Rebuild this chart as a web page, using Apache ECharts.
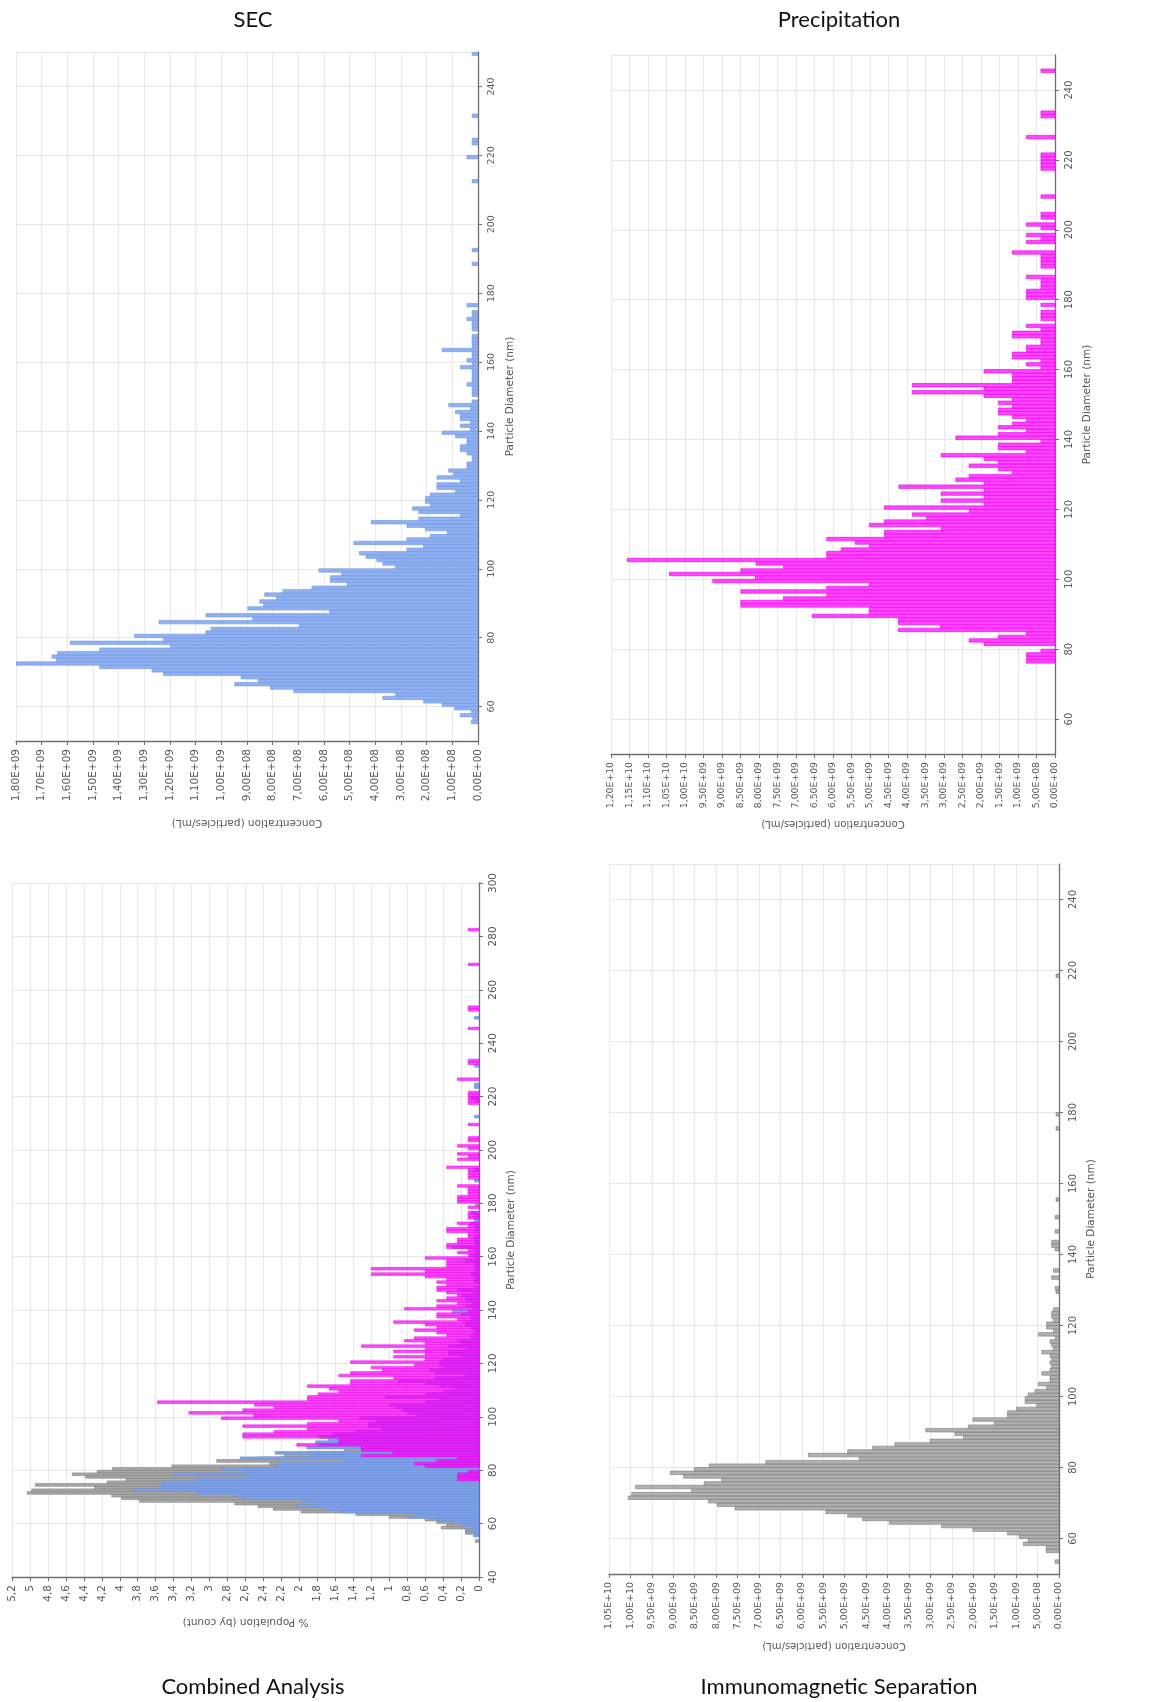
<!DOCTYPE html>
<html><head><meta charset="utf-8">
<script src="https://cdn.jsdelivr.net/npm/echarts/dist/echarts.min.js"></script>
<style>html,body{margin:0;padding:0;background:#fff}#c{width:1164px;height:1702px}</style>
</head><body><div id="c"></div>
<script>
// ---------------- DATA ----------------
const panelTitles = ['SEC', 'Precipitation', 'Combined Analysis', 'Immunomagnetic Separation'];
const diameterAxisName = 'Particle Diameter (nm)';
const concAxisName = 'Concentration (particles/mL)';
const pctAxisName = '% Population (by count)';

// SEC (particles/mL) per 1 nm bin
const secDiameter = [
55,56,57,58,59,60,61,62,63,64,
65,66,67,68,69,70,71,72,73,74,
75,76,77,78,79,80,81,82,83,84,
85,86,87,88,89,90,91,92,93,94,
95,96,97,98,99,100,101,102,103,104,
105,106,107,108,109,110,111,112,113,114,
115,116,117,118,119,120,121,122,123,124,
125,126,127,128,129,130,131,132,133,134,
135,136,137,138,139,140,141,142,143,144,
145,146,147,148,150,151,152,153,154,155,
156,157,158,159,160,161,162,163,164,165,
166,167,169,170,171,172,173,174,176,188,
192,212,219,223,224,231,249];
const secConcentration = [
2.6e7,2.0e7,6.9e7,2.6e7,9.1e7,1.40e8,2.12e8,3.71e8,3.22e8,7.18e8,
8.09e8,9.48e8,8.55e8,9.23e8,1.225e9,1.270e9,1.474e9,1.799e9,1.643e9,1.660e9,
1.638e9,1.474e9,1.199e9,1.588e9,1.225e9,1.338e9,1.060e9,1.040e9,6.95e8,1.243e9,
8.78e8,1.060e9,5.78e8,8.97e8,8.35e8,8.50e8,7.86e8,8.31e8,7.60e8,6.47e8,
5.10e8,5.75e8,5.75e8,5.32e8,6.20e8,3.22e8,3.71e8,3.94e8,4.36e8,4.62e8,
2.77e8,2.12e8,4.84e8,2.77e8,1.86e8,1.20e8,2.05e8,2.77e8,4.16e8,2.31e8,
6.9e7,2.31e8,2.55e8,1.86e8,2.05e8,2.05e8,1.86e8,8.8e7,1.60e8,1.60e8,
6.9e7,1.60e8,9.5e7,1.14e8,4.3e7,4.3e7,2.3e7,2.3e7,4.3e7,6.9e7,
6.9e7,4.3e7,4.3e7,8.8e7,1.40e8,3.0e7,6.9e7,3.0e7,6.9e7,6.9e7,
8.8e7,3.0e7,1.14e8,2.3e7,2.3e7,2.3e7,2.3e7,4.3e7,2.3e7,2.3e7,
2.3e7,2.3e7,6.9e7,2.3e7,4.3e7,2.3e7,2.3e7,1.40e8,2.3e7,2.3e7,
2.3e7,2.3e7,2.3e7,2.3e7,2.3e7,4.3e7,2.3e7,2.3e7,4.3e7,2.3e7,
2.3e7,2.3e7,4.3e7,2.3e7,2.3e7,2.3e7,2.3e7];

// Precipitation (particles/mL)
const precDiameter = [
76,77,78,79,81,82,83,84,85,86,
87,88,89,90,91,92,93,94,95,96,
97,98,99,100,101,102,103,104,105,106,
107,108,109,110,111,112,113,114,115,116,
117,118,119,120,121,122,123,124,125,126,
127,128,129,130,131,132,133,134,135,136,
137,138,139,140,141,142,143,144,145,146,
147,148,149,150,151,152,153,154,155,156,
157,158,159,160,161,162,163,164,165,166,
167,168,169,170,171,172,174,175,176,178,
180,181,182,183,184,185,186,189,190,191,
192,193,196,197,198,200,201,203,204,209,
217,218,219,220,221,226,232,233,245];
const precConcentration = [
7.7e8,7.7e8,7.7e8,3.8e8,1.92e9,2.32e9,1.53e9,7.7e8,4.23e9,3.10e9,
4.23e9,4.23e9,6.56e9,5.02e9,5.02e9,8.49e9,8.49e9,7.34e9,6.17e9,8.49e9,
6.17e9,5.02e9,9.25e9,8.10e9,1.042e10,8.49e9,7.34e9,8.08e9,1.156e10,6.17e9,
6.17e9,5.78e9,5.02e9,5.40e9,6.17e9,4.61e9,4.61e9,3.08e9,5.02e9,4.61e9,
3.47e9,3.86e9,2.32e9,4.61e9,1.92e9,3.08e9,1.92e9,3.08e9,1.92e9,4.22e9,
1.92e9,2.68e9,2.32e9,1.15e9,1.53e9,2.32e9,1.53e9,1.92e9,3.08e9,7.7e8,
1.53e9,1.53e9,3.8e8,2.68e9,1.53e9,7.7e8,1.53e9,1.15e9,7.7e8,1.15e9,
1.53e9,1.53e9,1.15e9,1.53e9,1.15e9,1.92e9,3.86e9,1.92e9,3.86e9,1.15e9,
1.15e9,1.15e9,1.92e9,3.8e8,7.7e8,3.8e8,1.15e9,1.15e9,7.7e8,7.7e8,
3.8e8,3.8e8,1.15e9,1.15e9,3.8e8,7.7e8,3.8e8,3.8e8,3.8e8,3.8e8,
7.7e8,7.7e8,7.7e8,3.8e8,3.8e8,3.8e8,7.7e8,3.8e8,3.8e8,3.8e8,
3.8e8,1.15e9,7.7e8,3.8e8,7.7e8,3.8e8,7.7e8,3.8e8,3.8e8,3.8e8,
3.8e8,3.8e8,3.8e8,3.8e8,3.8e8,7.7e8,3.8e8,3.8e8,3.8e8];

// Immunomagnetic separation (particles/mL)
const imsDiameter = [
53,56,57,58,59,60,61,62,63,64,
65,66,67,68,69,70,71,72,73,74,
75,76,77,78,79,80,81,82,83,84,
85,86,87,88,89,90,91,92,93,94,
95,96,97,98,99,100,101,102,103,104,
105,106,107,108,109,110,111,112,113,114,
115,116,117,118,119,120,121,122,123,124,
129,130,133,135,141,142,143,146,150,155,
175,179,218];
const imsConcentration = [
9e7,3.0e8,3.0e8,8.3e8,7.2e8,9.3e8,1.20e9,2.01e9,2.74e9,3.96e9,
4.58e9,4.93e9,5.44e9,7.56e9,7.97e9,8.18e9,1.005e10,9.97e9,8.57e9,9.88e9,
8.28e9,7.87e9,8.76e9,9.07e9,8.51e9,8.16e9,6.84e9,4.66e9,5.85e9,4.93e9,
4.35e9,3.83e9,3.01e9,2.23e9,2.43e9,3.11e9,2.12e9,1.51e9,2.01e9,1.20e9,
1.20e9,9.9e8,5.2e8,7.9e8,7.9e8,7.2e8,5.6e8,2.9e8,4.8e8,2.1e8,
2.1e8,4.0e8,2.1e8,1.7e8,2.1e8,1.7e8,2.1e8,4.0e8,1.3e8,1.7e8,
2.1e8,9e7,4.8e8,1.3e8,2.9e8,2.9e8,1.3e8,1.7e8,1.7e8,1.3e8,
7e7,9e7,1.7e8,1.3e8,9e7,1.7e8,1.7e8,9e7,9e7,7e7,
7e7,7e7,7e7];

// Combined analysis (% population by count)
const combImsDiameter = imsDiameter;
const combImsPercent = [
0.04,0.15,0.15,0.42,0.36,0.47,0.60,1.00,1.37,1.98,
2.29,2.46,2.72,3.78,3.98,4.09,5.03,4.98,4.28,4.94,
4.14,3.93,4.38,4.53,4.25,4.08,3.42,2.33,2.92,2.46,
2.17,1.91,1.50,1.11,1.21,1.55,1.06,0.75,1.00,0.60,
0.60,0.50,0.26,0.40,0.40,0.36,0.28,0.14,0.24,0.10,
0.10,0.20,0.10,0.08,0.10,0.08,0.10,0.20,0.06,0.08,
0.10,0.04,0.24,0.06,0.14,0.14,0.06,0.08,0.08,0.06,
0.04,0.04,0.08,0.06,0.04,0.08,0.08,0.04,0.04,0.04,
0.04,0.04,0.04];
const combSecDiameter = secDiameter;
const combSecPercent = [
0.06,0.04,0.15,0.06,0.19,0.30,0.45,0.79,0.69,1.54,
1.73,2.03,1.83,1.98,2.62,2.72,3.15,3.85,3.52,3.55,
3.51,3.15,2.57,3.40,2.62,2.86,2.27,2.23,1.49,2.66,
1.88,2.27,1.24,1.92,1.79,1.82,1.68,1.78,1.63,1.38,
1.09,1.23,1.23,1.14,1.33,0.69,0.79,0.84,0.93,0.99,
0.59,0.45,1.04,0.59,0.40,0.26,0.44,0.59,0.89,0.49,
0.15,0.49,0.55,0.40,0.44,0.44,0.40,0.19,0.34,0.34,
0.15,0.34,0.20,0.24,0.09,0.09,0.05,0.05,0.09,0.15,
0.15,0.09,0.09,0.19,0.30,0.06,0.15,0.06,0.15,0.15,
0.19,0.06,0.24,0.05,0.05,0.05,0.05,0.09,0.05,0.05,
0.05,0.05,0.15,0.05,0.09,0.05,0.05,0.30,0.05,0.05,
0.05,0.05,0.05,0.05,0.05,0.09,0.05,0.05,0.09,0.05,
0.05,0.05,0.09,0.05,0.05,0.05,0.05];
const combPrecDiameter = precDiameter.concat([252,253,269,282]);
const combPrecPercent = [
0.24,0.24,0.24,0.12,0.60,0.72,0.47,0.24,1.31,0.96,
1.31,1.31,2.03,1.56,1.56,2.63,2.63,2.28,1.91,2.63,
1.91,1.56,2.87,2.51,3.23,2.63,2.28,2.50,3.58,1.91,
1.91,1.79,1.56,1.67,1.91,1.43,1.43,0.95,1.56,1.43,
1.08,1.20,0.72,1.43,0.60,0.95,0.60,0.95,0.60,1.31,
0.60,0.83,0.72,0.36,0.47,0.72,0.47,0.60,0.95,0.24,
0.47,0.47,0.12,0.83,0.47,0.24,0.47,0.36,0.24,0.36,
0.47,0.47,0.36,0.47,0.36,0.60,1.20,0.60,1.20,0.36,
0.36,0.36,0.60,0.12,0.24,0.12,0.36,0.36,0.24,0.24,
0.12,0.12,0.36,0.36,0.12,0.24,0.12,0.12,0.12,0.12,
0.24,0.24,0.24,0.12,0.12,0.12,0.24,0.12,0.12,0.12,
0.12,0.36,0.24,0.12,0.24,0.12,0.24,0.12,0.12,0.12,
0.12,0.12,0.12,0.12,0.12,0.24,0.12,0.12,0.12,
0.12,0.12,0.12,0.12];

// ---------------- HELPERS ----------------
function sciLabel(v) {
  if (Math.abs(v) < 1) return '0,00E+00';
  let e = Math.floor(Math.log10(v) + 1e-9);
  let m = v / Math.pow(10, e);
  if (m >= 9.995) { m /= 10; e += 1; }
  return m.toFixed(2).replace('.', ',') + 'E+' + (e < 10 ? '0' : '') + e;
}
function pctLabel(v) { return String(Math.round(v * 10) / 10).replace('.', ','); }
function pairs(d, v) { return d.map((x, i) => [x, v[i]]); }
function histRender(fill, stroke) {
  return function (params, api) {
    const d = api.value(0), v = api.value(1);
    const a = api.coord([0, d]);
    const b = api.coord([v, d + 1]);
    return {
      type: 'rect',
      shape: { x: Math.min(a[0], b[0]), y: Math.min(a[1], b[1]), width: Math.abs(a[0] - b[0]), height: Math.abs(a[1] - b[1]) },
      style: { fill: fill, stroke: stroke, lineWidth: 0.6 }
    };
  };
}
const AX = '#6f6f6f', GRID = '#e8e8e8', LBL = '#595959', FONT = 'DejaVu Sans';

function xAxisFor(i, max, interval, fmt, fs, name, gap, nfs) {
  return {
    gridIndex: i, type: 'value', inverse: true, min: 0, max: max, interval: interval, position: 'bottom',
    axisLine: { show: true, onZero: false, lineStyle: { color: AX, width: 1.3 } },
    axisTick: { show: true, length: 4, lineStyle: { color: AX } },
    axisLabel: { rotate: 90, margin: 8, fontSize: fs, fontFamily: FONT, color: LBL, formatter: fmt },
    splitLine: { show: true, lineStyle: { color: GRID, width: 1 } },
    name: name, nameLocation: 'middle', nameRotate: 180, nameGap: gap,
    nameTextStyle: { fontFamily: FONT, fontSize: nfs, color: LBL }
  };
}
function yAxisFor(i, min, max, interval, fs) {
  const ax = {
    gridIndex: i, type: 'value', position: 'right', min: min, max: max,
    axisLine: { show: true, onZero: false, lineStyle: { color: AX, width: 1.3 } },
    axisTick: { show: true, length: 4, lineStyle: { color: AX } },
    axisLabel: { rotate: 90, margin: 9, fontSize: fs, fontFamily: FONT, color: LBL },
    splitLine: { show: true, lineStyle: { color: GRID, width: 1 } },
    name: diameterAxisName, nameLocation: 'middle', nameRotate: 90, nameGap: 27,
    nameTextStyle: { fontFamily: FONT, fontSize: 10.5, color: LBL }
  };
  if (interval) { ax.interval = interval; }
  else { ax.splitNumber = 10; ax.axisLabel.showMinLabel = false; ax.axisLabel.showMaxLabel = false; }
  return ax;
}
function hist(i, d, v, fill, stroke) {
  return {
    type: 'custom', coordinateSystem: 'cartesian2d', xAxisIndex: i, yAxisIndex: i,
    data: pairs(d, v), encode: { x: 1, y: 0 }, renderItem: histRender(fill, stroke),
    clip: true, silent: true
  };
}
const titleStyle = { fontFamily: 'Lato', fontSize: 22, fontWeight: 'normal', color: '#111' };

const option = {
  animation: false,
  backgroundColor: '#fff',
  title: [
    { text: panelTitles[0], left: 248, top: 4, textAlign: 'center', textStyle: titleStyle },
    { text: panelTitles[1], left: 834, top: 4, textAlign: 'center', textStyle: titleStyle },
    { text: panelTitles[2], left: 248, top: 1671, textAlign: 'center', textStyle: titleStyle },
    { text: panelTitles[3], left: 834, top: 1671, textAlign: 'center', textStyle: titleStyle }
  ],
  grid: [
    { left: 16, top: 52, width: 462, height: 689 },
    { left: 611, top: 55, width: 444, height: 699 },
    { left: 12, top: 883, width: 467, height: 694 },
    { left: 609, top: 864, width: 450, height: 710 }
  ],
  xAxis: [
    xAxisFor(0, 1.8e9, 1e8, sciLabel, 10.5, concAxisName, 76, 10.5),
    xAxisFor(1, 1.2e10, 5e8, sciLabel, 9.3, concAxisName, 65, 10),
    xAxisFor(2, 5.2, 0.2, pctLabel, 10.5, pctAxisName, 39, 10.5),
    xAxisFor(3, 1.05e10, 5e8, sciLabel, 9.5, concAxisName, 67, 10)
  ],
  yAxis: [
    yAxisFor(0, 50, 250, null, 9.5),
    yAxisFor(1, 50, 250, null, 10),
    yAxisFor(2, 40, 300, 20, 10.5),
    yAxisFor(3, 50, 250, null, 10)
  ],
  series: [
    hist(0, secDiameter, secConcentration, '#90b1f1', '#6e95e6'),
    hist(1, precDiameter, precConcentration, '#ff45ff', '#e600e6'),
    hist(2, combImsDiameter, combImsPercent, '#a9a9a9', '#7c7c7c'),
    hist(2, combSecDiameter, combSecPercent, '#80a2e8', '#6a8fe0'),
    hist(2, combPrecDiameter, combPrecPercent, 'rgba(255,0,255,0.72)', 'rgba(230,0,230,0.8)'),
    hist(3, imsDiameter, imsConcentration, '#b0b0b0', '#7a7a7a')
  ]
};
const chart = echarts.init(document.getElementById('c'));
chart.setOption(option);
</script>
</body></html>
